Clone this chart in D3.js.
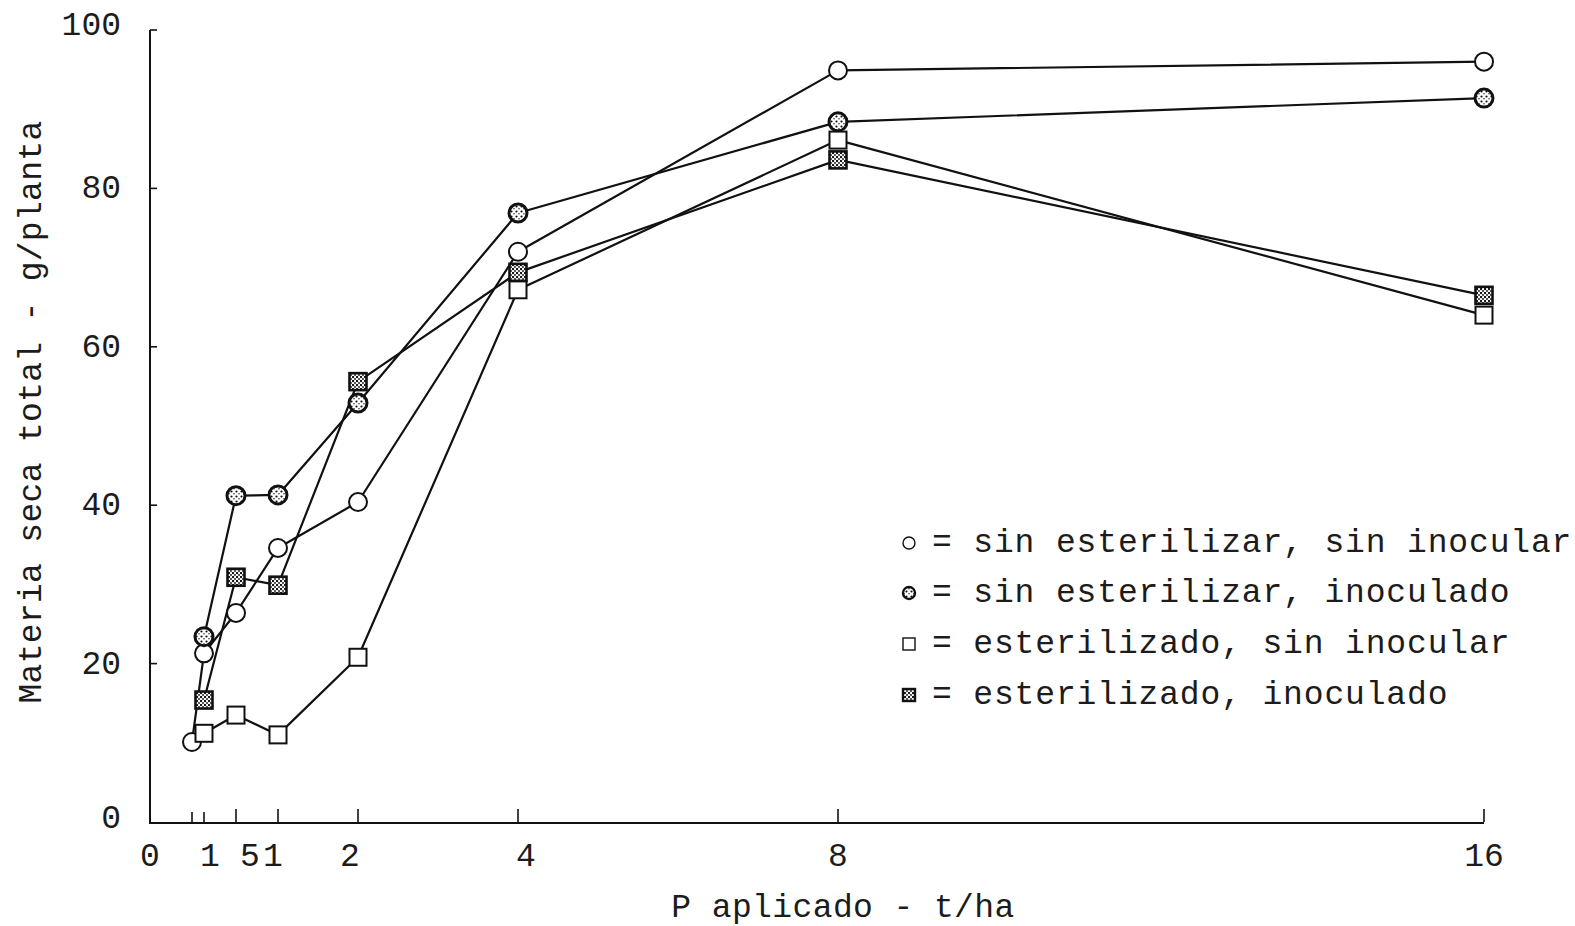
<!DOCTYPE html>
<html>
<head>
<meta charset="utf-8">
<script src="https://cdn.jsdelivr.net/npm/d3@7"></script>
<style>
  html, body { margin: 0; padding: 0; background: #ffffff; }
  svg { display: block; }
  text { font-family: "Liberation Mono", "DejaVu Sans Mono", monospace; fill: #1c1c1c; }
</style>
</head>
<body>
<svg id="chart" width="1575" height="926"></svg>
<script>
// Applied P levels (t/ha)
const pLevels = [0.125, 0.25, 0.5, 1, 2, 4, 8, 16];

// Total dry matter (g/plant) for each treatment; null = not sampled
const sinEsterSinInoc = [10.1, 21.3, 26.4, 34.6, 40.4, 72.0, 94.9, 96.0];
const sinEsterInoc    = [null, 23.4, 41.2, 41.3, 52.9, 76.9, 88.4, 91.4];
const esterSinInoc    = [null, 11.2, 13.5, 11.0, 20.8, 67.2, 86.1, 64.0];
const esterInoc       = [null, 15.4, 30.9, 29.9, 55.6, 69.4, 83.6, 66.5];

const seriesNames = [
  "sin esterilizar, sin inocular",
  "sin esterilizar, inoculado",
  "esterilizado, sin inocular",
  "esterilizado, inoculado"
];

const xTickValues = [0, 0.125, 0.25, 0.5, 1, 2, 4, 8, 16];
const xTickLabels = ["0", "", "1", "5", "1", "2", "4", "8", "16"];
const yTickValues = [0, 20, 40, 60, 80, 100];

const xTitle = "P aplicado - t/ha";
const yTitle = "Materia seca total - g/planta";

const svg = d3.select("#chart");

// Defs: speckled fills for the "inoculado" markers
const defs = svg.append("defs");
const speck = defs.append("pattern").attr("id", "speck")
  .attr("patternUnits", "userSpaceOnUse").attr("width", 5).attr("height", 5);
speck.append("rect").attr("width", 5).attr("height", 5).attr("fill", "#fff");
speck.append("circle").attr("cx", 1.5).attr("cy", 1.5).attr("r", 1.1).attr("fill", "#111");
speck.append("circle").attr("cx", 4).attr("cy", 3.8).attr("r", 0.8).attr("fill", "#333");

const speckDense = defs.append("pattern").attr("id", "speckDense")
  .attr("patternUnits", "userSpaceOnUse").attr("width", 4).attr("height", 4);
speckDense.append("rect").attr("width", 4).attr("height", 4).attr("fill", "#fff");
speckDense.append("circle").attr("cx", 1).attr("cy", 1).attr("r", 1.2).attr("fill", "#111");
speckDense.append("circle").attr("cx", 3).attr("cy", 3).attr("r", 1.0).attr("fill", "#222");

// Scales: the P axis is stretched at the low end (piecewise linear)
const x = d3.scaleLinear()
  .domain(xTickValues)
  .range([150, 192, 204, 236, 278, 358, 518, 838, 1484]);
const y = d3.scaleLinear().domain([0, 100]).range([822, 30]);

// Axes
const axisColor = "#111";
const gAxes = svg.append("g");
gAxes.append("line")
  .attr("x1", x(0)).attr("x2", x(16)).attr("y1", y(0) + 1).attr("y2", y(0) + 1)
  .attr("stroke", axisColor).attr("stroke-width", 2);
gAxes.append("line")
  .attr("x1", x(0)).attr("x2", x(0)).attr("y1", y(0) + 2).attr("y2", y(100))
  .attr("stroke", axisColor).attr("stroke-width", 2);

// x ticks (inward, upwards)
gAxes.selectAll(".xt").data(xTickValues.filter(d => d > 0)).join("line")
  .attr("x1", d => x(d)).attr("x2", d => x(d))
  .attr("y1", y(0)).attr("y2", d => y(0) - (d < 0.5 ? 10 : 13))
  .attr("stroke", axisColor).attr("stroke-width", 1.6);

// y ticks (inward, rightwards)
gAxes.selectAll(".yt").data(yTickValues.filter(d => d > 0)).join("line")
  .attr("x1", x(0)).attr("x2", x(0) + 7)
  .attr("y1", d => y(d)).attr("y2", d => y(d))
  .attr("stroke", axisColor).attr("stroke-width", 1.6);

// Tick labels
const labelNudge = { 0.25: 6, 0.5: 14, 1: -5, 2: -8, 4: 8 };
svg.selectAll(".xl").data(xTickValues).join("text")
  .attr("x", (d) => x(d) + (labelNudge[d] || 0))
  .attr("y", 866)
  .attr("text-anchor", "middle")
  .attr("font-size", 33)
  .text((d, i) => xTickLabels[i]);

svg.selectAll(".yl").data(yTickValues).join("text")
  .attr("x", 121)
  .attr("y", d => y(d) + 10 - (d === 0 ? 4 : 0) - (d === 100 ? 5 : 0))
  .attr("text-anchor", "end")
  .attr("font-size", 33)
  .text(d => d);

// Axis titles
svg.append("text")
  .attr("x", 843).attr("y", 917)
  .attr("text-anchor", "middle")
  .attr("font-size", 33)
  .attr("letter-spacing", 0.4)
  .text(xTitle);
svg.append("text")
  .attr("transform", "translate(41,412) rotate(-90)")
  .attr("text-anchor", "middle")
  .attr("font-size", 33)
  .attr("letter-spacing", 0.3)
  .text(yTitle);

// Series
const series = [
  { name: seriesNames[0], values: sinEsterSinInoc, shape: "circle", fill: "#fff", sw: 2 },
  { name: seriesNames[1], values: sinEsterInoc, shape: "circle", fill: "url(#speck)", sw: 3 },
  { name: seriesNames[2], values: esterSinInoc, shape: "square", fill: "#fff", sw: 2 },
  { name: seriesNames[3], values: esterInoc, shape: "square", fill: "url(#speckDense)", sw: 2.6 }
];

const line = d3.line()
  .defined(d => d.v !== null)
  .x(d => x(d.p)).y(d => y(d.v));

const gLines = svg.append("g");
series.forEach(s => {
  const pts = pLevels.map((p, i) => ({ p, v: s.values[i] }));
  gLines.append("path")
    .datum(pts)
    .attr("d", line)
    .attr("fill", "none")
    .attr("stroke", "#111")
    .attr("stroke-width", 2.2)
    .attr("stroke-linejoin", "round");
});

function drawMarker(g, shape, cx, cy, size, fill, sw) {
  if (shape === "circle") {
    g.append("circle").attr("cx", cx).attr("cy", cy).attr("r", size / 2)
      .attr("fill", fill).attr("stroke", "#111").attr("stroke-width", sw);
  } else {
    g.append("rect").attr("x", cx - size / 2).attr("y", cy - size / 2)
      .attr("width", size).attr("height", size)
      .attr("fill", fill).attr("stroke", "#111").attr("stroke-width", sw);
  }
}

const gMarks = svg.append("g");
series.forEach(s => {
  pLevels.forEach((p, i) => {
    const v = s.values[i];
    if (v === null) return;
    drawMarker(gMarks, s.shape, x(p), y(v), s.shape === "circle" ? 18 : 17, s.fill, s.sw);
  });
});

// Legend
const legendRows = [543, 593, 644, 695];
const gLeg = svg.append("g");
series.forEach((s, i) => {
  drawMarker(gLeg, s.shape, 909, legendRows[i], 12, s.fill, s.sw === 2 ? 1.4 : 2.4);
  gLeg.append("text")
    .attr("x", 932).attr("y", legendRows[i] + 9)
    .attr("font-size", 33)
    .attr("letter-spacing", 0.85)
    .text("= " + s.name);
});
</script>
</body>
</html>
